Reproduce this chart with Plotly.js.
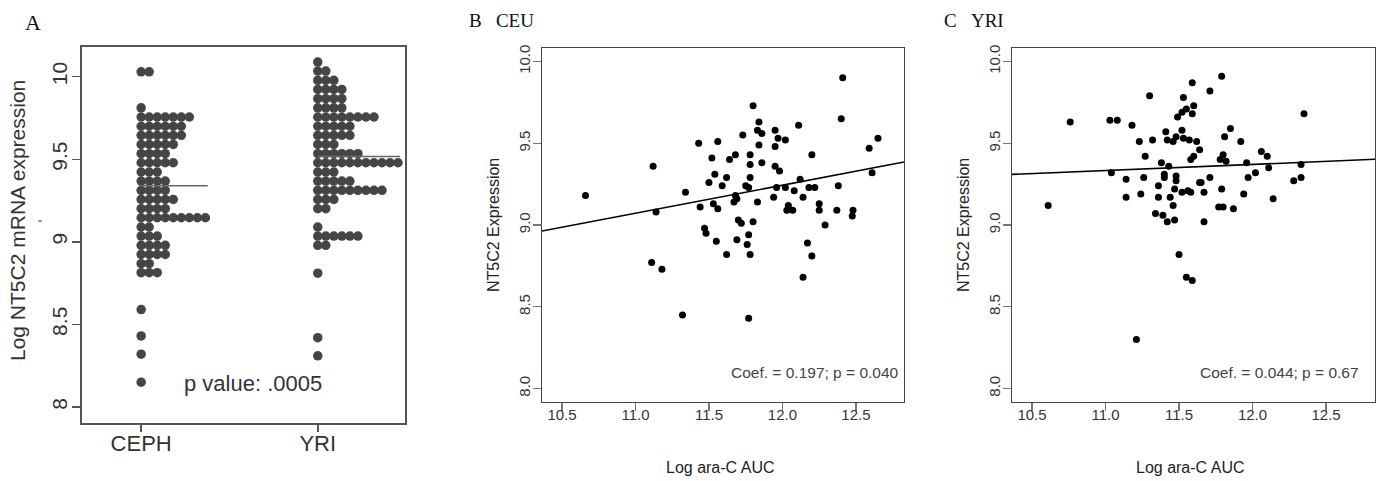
<!DOCTYPE html>
<html><head><meta charset="utf-8">
<script src="https://cdn.plot.ly/plotly-3.0.1.min.js"></script>
<style>html,body{margin:0;padding:0;background:#fff}#chart{width:1388px;height:481px}</style>
</head><body><div id="chart"></div>
<script>
// ---------- Panel A: dot plot ----------
const groups = ['CEPH', 'YRI'];
const cephLevels = [10.03, 9.812, 9.756, 9.70, 9.645, 9.59, 9.534, 9.479, 9.423, 9.368, 9.312, 9.257, 9.201, 9.146, 9.09, 9.035, 8.979, 8.924, 8.868, 8.813, 8.59, 8.43, 8.32, 8.15];
const cephCounts = [2, 1, 7, 6, 6, 5, 4, 5, 3, 4, 4, 5, 4, 9, 2, 3, 4, 4, 2, 3, 1, 1, 1, 1];
const yriLevels = [10.089, 10.034, 9.978, 9.923, 9.867, 9.812, 9.756, 9.70, 9.645, 9.59, 9.534, 9.479, 9.423, 9.368, 9.312, 9.257, 9.201, 9.09, 9.035, 8.979, 8.81, 8.42, 8.31];
const yriCounts = [1, 2, 3, 4, 4, 4, 8, 5, 5, 3, 6, 11, 3, 5, 9, 3, 2, 1, 6, 2, 1, 1, 1];
const groupMedians = [9.34, 9.517];
const pValueText = 'p value: .0005';

// ---------- Panel B: CEU ----------
const ceuAUC = [10.66, 11.12, 11.14, 11.34, 11.43, 11.56, 11.52, 11.64, 11.54, 11.62, 11.50, 11.59, 11.44, 11.53, 11.56, 11.47,
  12.41, 11.80, 12.40, 11.84, 12.11, 11.83, 11.86, 11.95, 11.73, 11.97, 12.02, 12.65, 11.95, 12.59, 11.84, 11.68, 11.78, 12.20,
  11.78, 11.86, 11.95, 11.98, 11.78, 11.75, 11.77, 12.12, 11.96, 12.02, 12.08, 12.18, 12.22, 12.38, 12.61, 11.68, 11.69, 11.67,
  11.94, 12.14, 11.83, 12.04, 12.03, 12.07, 12.25, 12.25, 12.37, 12.48, 12.475, 11.70, 11.72, 11.80, 12.29,
  11.48, 11.55, 11.62, 11.11, 11.18, 11.32, 11.77, 11.69, 11.76, 11.78, 12.17, 12.20, 12.14, 11.77];
const ceuExpr = [9.18, 9.36, 9.08, 9.20, 9.50, 9.51, 9.41, 9.40, 9.31, 9.29, 9.26, 9.24, 9.11, 9.13, 9.10, 8.98,
  9.90, 9.73, 9.65, 9.63, 9.61, 9.58, 9.56, 9.58, 9.55, 9.53, 9.52, 9.53, 9.48, 9.47, 9.49, 9.43, 9.43, 9.43,
  9.37, 9.38, 9.36, 9.33, 9.29, 9.24, 9.23, 9.28, 9.23, 9.23, 9.21, 9.23, 9.23, 9.24, 9.32, 9.18, 9.16, 9.14,
  9.17, 9.17, 9.14, 9.12, 9.09, 9.09, 9.13, 9.09, 9.09, 9.09, 9.055, 9.03, 9.01, 9.02, 9.00,
  8.95, 8.90, 8.82, 8.77, 8.73, 8.45, 8.94, 8.91, 8.88, 8.82, 8.89, 8.81, 8.68, 8.43];
const ceuFit = { intercept: 7.1866, slope: 0.1714 };
const ceuStat = 'Coef. = 0.197; p = 0.040';

// ---------- Panel C: YRI ----------
const yriAUC = [10.61, 10.76, 11.03, 11.08, 11.04, 11.18, 11.30, 11.23, 11.32, 11.27, 11.14, 11.14, 11.26, 11.24, 11.38, 11.43,
  11.40, 11.40, 11.36, 11.34, 11.39, 11.42, 11.47, 11.36, 11.44, 11.46, 11.48, 11.48, 11.47, 11.52, 11.56, 11.58, 11.64,
  11.41, 11.42, 11.46, 11.48, 11.52, 11.53, 11.57, 11.49, 11.52, 11.55, 11.59, 11.60, 11.53, 11.59, 11.62, 11.58, 11.60, 11.64,
  11.79, 11.71, 11.85, 11.81, 11.92, 12.35, 12.06, 12.10, 11.80, 11.78, 11.82, 11.96, 12.11, 12.33, 12.02, 11.97, 11.71, 11.65,
  11.67, 12.28, 12.33, 11.79, 11.94, 12.14, 11.77, 11.80, 11.87, 11.67, 11.50, 11.55, 11.59, 11.21];
const yriExpr = [9.12, 9.63, 9.64, 9.64, 9.32, 9.61, 9.79, 9.51, 9.52, 9.42, 9.28, 9.17, 9.29, 9.19, 9.38, 9.36,
  9.31, 9.29, 9.24, 9.07, 9.06, 9.02, 9.03, 9.17, 9.17, 9.12, 9.30, 9.27, 9.22, 9.20, 9.21, 9.20, 9.26,
  9.57, 9.52, 9.51, 9.54, 9.58, 9.53, 9.52, 9.66, 9.69, 9.71, 9.68, 9.73, 9.78, 9.87, 9.51, 9.40, 9.42, 9.46,
  9.91, 9.82, 9.59, 9.54, 9.51, 9.68, 9.45, 9.42, 9.43, 9.40, 9.39, 9.38, 9.35, 9.37, 9.32, 9.29, 9.29, 9.26,
  9.20, 9.27, 9.29, 9.22, 9.19, 9.16, 9.11, 9.11, 9.10, 9.02, 8.82, 8.68, 8.66, 8.30];
const yriFit = { intercept: 8.923, slope: 0.0373 };
const yriStat = 'Coef. = 0.044; p = 0.67';

const scatterYTicks = [8, 8.5, 9, 9.5, 10];
const scatterYText = ['8.0', '8.5', '9.0', '9.5', '10.0'];
const scatterXTicks = [10.5, 11, 11.5, 12, 12.5];
const scatterXText = ['10.5', '11.0', '11.5', '12.0', '12.5'];
const dotYTicks = [8, 8.5, 9, 9.5, 10];
const dotYText = ['8', '8.5', '9', '9.5', '10'];

// ---------- layout helpers ----------
const W = 1388, H = 481;
const px = x => x / W;
const py = y => 1 - y / H;
const SANS = 'Liberation Sans, Arial, sans-serif';
const SERIF = 'Liberation Serif, Times New Roman, serif';

const DX = 8 / 176; // horizontal dot spacing in category units
function dotCloud(levels, counts, pos) {
  const xs = [], ys = [];
  levels.forEach((v, i) => { for (let k = 0; k < counts[i]; k++) { xs.push(pos + k * DX); ys.push(v); } });
  return { xs, ys };
}
const cephDots = dotCloud(cephLevels, cephCounts, 1);
const yriDots = dotCloud(yriLevels, yriCounts, 2);

const rangeA_x = [0.665, 2.494], rangeA_y = [7.903, 10.18];
const rangeB_x = [10.364, 12.827], rangeC_x = [10.364, 12.833], rangeS_y = [7.92, 10.08];

const traces = [
  { x: cephDots.xs, y: cephDots.ys, xaxis: 'x', yaxis: 'y', mode: 'markers', type: 'scatter',
    marker: { size: 9.5, color: '#454545' }, hoverinfo: 'skip', showlegend: false },
  { x: yriDots.xs, y: yriDots.ys, xaxis: 'x', yaxis: 'y', mode: 'markers', type: 'scatter',
    marker: { size: 9.5, color: '#454545' }, hoverinfo: 'skip', showlegend: false },
  { x: [1, 1.377], y: [groupMedians[0], groupMedians[0]], xaxis: 'x', yaxis: 'y', mode: 'lines', type: 'scatter',
    line: { color: '#666', width: 1.5 }, showlegend: false },
  { x: [2, 2.466], y: [groupMedians[1], groupMedians[1]], xaxis: 'x', yaxis: 'y', mode: 'lines', type: 'scatter',
    line: { color: '#666', width: 1.5 }, showlegend: false },
  { x: ceuAUC, y: ceuExpr, xaxis: 'x2', yaxis: 'y2', mode: 'markers', type: 'scatter',
    marker: { size: 7, color: '#000' }, showlegend: false },
  { x: rangeB_x, y: rangeB_x.map(v => ceuFit.intercept + ceuFit.slope * v), xaxis: 'x2', yaxis: 'y2', mode: 'lines', type: 'scatter',
    line: { color: '#000', width: 1.6 }, showlegend: false },
  { x: yriAUC, y: yriExpr, xaxis: 'x3', yaxis: 'y3', mode: 'markers', type: 'scatter',
    marker: { size: 7, color: '#000' }, showlegend: false },
  { x: rangeC_x, y: rangeC_x.map(v => yriFit.intercept + yriFit.slope * v), xaxis: 'x3', yaxis: 'y3', mode: 'lines', type: 'scatter',
    line: { color: '#000', width: 1.6 }, showlegend: false }
];

function scatterAxes(domX, rx) {
  return [{
    domain: domX, range: rx, tickmode: 'array', tickvals: scatterXTicks, ticktext: scatterXText,
    showline: true, mirror: true, linecolor: '#444', linewidth: 1.3, ticks: 'outside', ticklen: 8, tickcolor: '#777', tickwidth: 1.3,
    ticklabelstandoff: -9,
    tickfont: { family: SANS, size: 15, color: '#333' }, showgrid: false, zeroline: false, fixedrange: true
  }, {
    domain: [py(401.6), py(48.4)], range: rangeS_y, tickmode: 'array', tickvals: scatterYTicks, ticktext: scatterYText, tickangle: -90,
    showline: true, mirror: true, linecolor: '#444', linewidth: 1.3, ticks: 'outside', ticklen: 8, tickcolor: '#777', tickwidth: 1.3,
    ticklabelstandoff: -3,
    tickfont: { family: SANS, size: 15, color: '#333' }, showgrid: false, zeroline: false, fixedrange: true
  }];
}
const [xB, yB] = scatterAxes([px(542), px(904)], rangeB_x);
const [xC, yC] = scatterAxes([px(1012), px(1375)], rangeC_x);

const ann = (text, x, y, opts) => Object.assign({ text, x: px(x), y: py(y), xref: 'paper', yref: 'paper', showarrow: false,
  xanchor: 'center', yanchor: 'middle', font: { family: SANS, size: 16, color: '#222' } }, opts || {});

const layout = {
  width: W, height: H, margin: { l: 0, r: 0, t: 0, b: 0 }, paper_bgcolor: '#fff', plot_bgcolor: '#fff', showlegend: false,
  xaxis: {
    domain: [px(82), px(405)], range: rangeA_x, tickmode: 'array', tickvals: [1, 2], ticktext: groups, anchor: 'y',
    showline: true, mirror: true, linecolor: '#555', linewidth: 2, ticks: 'outside', ticklen: 7, tickcolor: '#555', tickwidth: 1.5,
    ticklabelstandoff: -7,
    tickfont: { family: SANS, size: 22, color: '#333' }, showgrid: false, zeroline: false, fixedrange: true
  },
  yaxis: {
    domain: [py(423), py(47)], range: rangeA_y, tickmode: 'array', tickvals: dotYTicks, ticktext: dotYText, tickangle: -90, anchor: 'x',
    showline: true, mirror: true, linecolor: '#555', linewidth: 2, ticks: 'outside', ticklen: 8, tickcolor: '#555', tickwidth: 1.5,
    ticklabelstandoff: -3,
    tickfont: { family: SANS, size: 21, color: '#333' }, showgrid: false, zeroline: false, fixedrange: true
  },
  xaxis2: Object.assign(xB, { anchor: 'y2' }), yaxis2: Object.assign(yB, { anchor: 'x2' }),
  xaxis3: Object.assign(xC, { anchor: 'y3' }), yaxis3: Object.assign(yC, { anchor: 'x3' }),
  shapes: [
    { type: 'line', xref: 'paper', yref: 'paper', x0: px(38), x1: px(42), y0: py(221), y1: py(221), line: { color: '#333', width: 1 } }
  ],
  annotations: [
    ann('A', 33, 22, { font: { family: SERIF, size: 22, color: '#111' } }),
    ann('B&#160;&#160;&#160;CEU', 467, 20, { xanchor: 'left', font: { family: SERIF, size: 19, color: '#111' } }),
    ann('C&#160;&#160;&#160;YRI', 942, 20, { xanchor: 'left', font: { family: SERIF, size: 19, color: '#111' } }),
    ann('Log NT5C2 mRNA expression', 18, 221, { textangle: -90, font: { family: SANS, size: 21, color: '#333' } }),
    { text: pValueText, x: 1.636, y: 8.145, xref: 'x', yref: 'y', showarrow: false, xanchor: 'center', yanchor: 'middle',
      font: { family: SANS, size: 22, color: '#333' } },
    ann('NT5C2 Expression', 493, 225, { textangle: -90 }),
    ann('Log ara-C AUC', 720, 467),
    ann(ceuStat, 901, 372, { xanchor: 'right', font: { family: SANS, size: 15.5, color: '#444' } }),
    ann('NT5C2 Expression', 963, 225, { textangle: -90 }),
    ann('Log ara-C AUC', 1190, 467),
    ann(yriStat, 1361, 372, { xanchor: 'right', font: { family: SANS, size: 15.5, color: '#444' } })
  ]
};

Plotly.newPlot('chart', traces, layout, { staticPlot: true, displayModeBar: false });
</script>
</body></html>
